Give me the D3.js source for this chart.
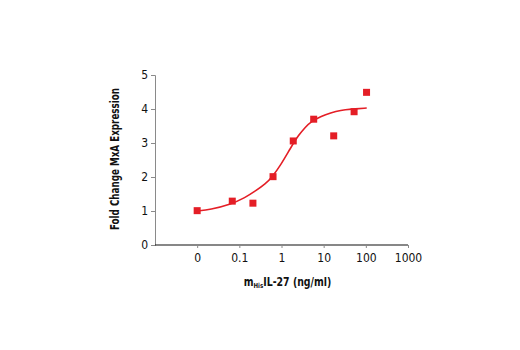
<!DOCTYPE html>
<html><head><meta charset="utf-8">
<script src="https://cdn.jsdelivr.net/npm/d3@7"></script>
<style>
body{margin:0;background:#fff;}
text{font-family:"Liberation Sans Narrow","DejaVu Sans Condensed","Arial Narrow",sans-serif;}
</style></head><body>
<svg id="c" width="520" height="350"></svg>
<script>
// Data (dose in ng/ml; "0" dose plotted at 0.01 position)
const doses = [0.01, 0.068, 0.21, 0.63, 1.9, 5.8, 17.3, 52.7, 104];
const foldChange = [1.01, 1.29, 1.23, 2.01, 3.06, 3.70, 3.21, 3.92, 4.49];
// fitted curve points
const curveDose = [0.01, 0.0204, 0.0611, 0.139, 0.240, 0.416, 0.611, 0.946, 1.64, 2.54, 3.73, 4.90, 8.49, 14.7, 25.4, 44.0, 105];
const curveVal  = [1.0, 1.044, 1.191, 1.397, 1.588, 1.794, 2.015, 2.338, 2.853, 3.235, 3.471, 3.618, 3.779, 3.891, 3.965, 3.994, 4.03];
const xTickVals = [0.01, 0.1, 1, 10, 100, 1000];
const xTickLabels = ["0", "0.1", "1", "10", "100", "1000"];
const yTicks = [0, 1, 2, 3, 4, 5];

const svg = d3.select("#c");
const red = "#e41e26";
const x = d3.scaleLog().domain([0.001, 1000]).range([155, 408]);
const y = d3.scaleLinear().domain([0, 5]).range([245, 75]);

// y axis
const ya = svg.append("g").attr("transform","translate(155,0)")
  .call(d3.axisLeft(y).tickValues(yTicks).tickSize(4).tickPadding(3).tickFormat(d3.format("d")));
ya.select(".domain").attr("stroke","#8a8a8a").attr("stroke-width",1);
ya.selectAll(".tick line").attr("stroke","#8a8a8a");
ya.selectAll("text").attr("font-size",12).attr("fill","#111");

// x axis
const xa = svg.append("g").attr("transform","translate(0,245)")
  .call(d3.axisBottom(x).tickValues(xTickVals).tickSize(3).tickPadding(5)
    .tickFormat((d,i)=>xTickLabels[i]));
xa.select(".domain").attr("d","M155,0H408").attr("stroke","#111").attr("stroke-width",1.2);
xa.selectAll(".tick line").attr("stroke","#8a8a8a");
xa.selectAll("text").attr("font-size",12).attr("fill","#111");

// curve
const line = d3.line().x((d,i)=>x(curveDose[i])).y((d,i)=>y(curveVal[i])).curve(d3.curveBasis);
svg.append("path").datum(curveDose).attr("d",line)
  .attr("fill","none").attr("stroke",red).attr("stroke-width",1.6);

// points
const s = 7;
svg.selectAll("rect.pt").data(doses).join("rect").attr("class","pt")
  .attr("x",(d)=>x(d)-s/2).attr("y",(d,i)=>y(foldChange[i])-s/2)
  .attr("width",s).attr("height",s).attr("fill",red);

// y label
svg.append("text").attr("transform","translate(119,159) rotate(-90)")
  .attr("text-anchor","middle").attr("font-size",12).attr("font-weight","bold").attr("fill","#111")
  .attr("textLength",142).attr("lengthAdjust","spacingAndGlyphs")
  .text("Fold Change MxA Expression");

// x label (single text, condensed horizontally)
const xl = svg.append("text").attr("transform","translate(287.5,286) scale(0.87,1)")
  .attr("text-anchor","middle").attr("font-size",12).attr("font-weight","bold").attr("fill","#111");
xl.append("tspan").text("m");
xl.append("tspan").attr("font-size",7).attr("dy",2).text("His");
xl.append("tspan").attr("dy",-2).text("IL-27 (ng/ml)");
</script>
</body></html>
